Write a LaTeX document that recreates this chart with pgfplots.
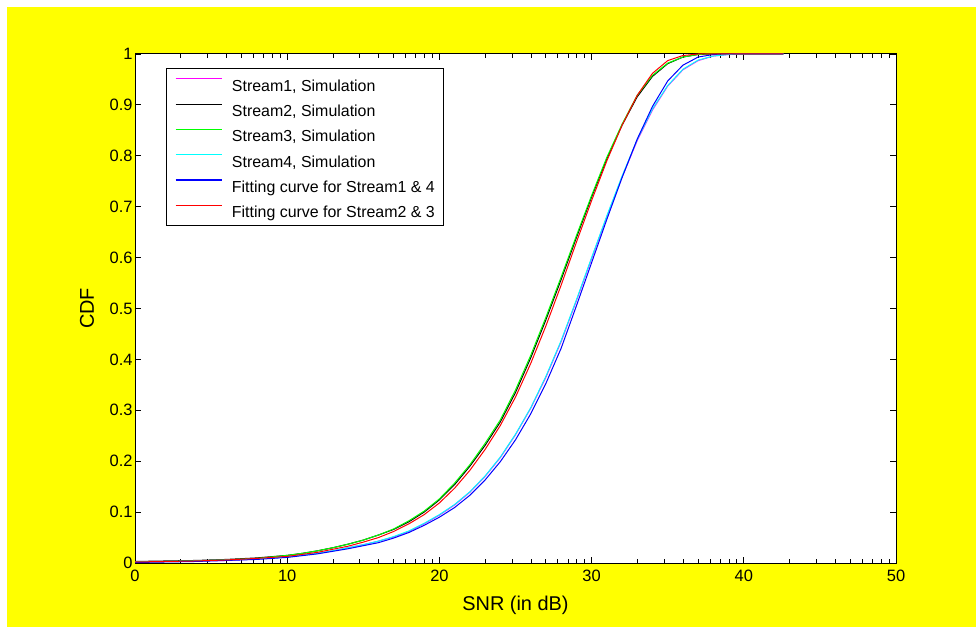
\documentclass[border=0pt]{standalone}
\usepackage{fontspec}
\setmainfont{Liberation Sans}
\usepackage{pgfplots}
\pgfplotsset{compat=1.18}
\usepackage{pgfplotstable}
\definecolor{mYellow}{RGB}{255,255,0}
\definecolor{mMagenta}{RGB}{255,0,255}
\definecolor{mGreen}{RGB}{0,255,0}
\definecolor{mCyan}{RGB}{0,255,255}
\definecolor{mBlue}{RGB}{0,0,255}
\definecolor{mRed}{RGB}{255,0,0}

\pgfplotstableread{
x y
0 0.002
2 0.003
4 0.004
6 0.005
8 0.008
10 0.012
12 0.019
13 0.024
14 0.030
15 0.036
16 0.043
17 0.051
18 0.062
19 0.077
20 0.094
21 0.114
22 0.139
23 0.170
24 0.207
25 0.252
26 0.304
27 0.365
28 0.435
29 0.515
30 0.598
31 0.680
32 0.758
33 0.830
34 0.890
35 0.937
36 0.969
37 0.987
38 0.996
39 0.999
39.6 1
42.6 1
}\sone

\pgfplotstableread{
x y
0 0.003
2 0.004
4 0.005
6 0.007
8 0.010
10 0.015
11 0.019
12 0.024
13 0.030
14 0.037
15 0.045
16 0.055
17 0.066
18 0.081
19 0.100
20 0.124
21 0.154
22 0.190
23 0.231
24 0.277
25 0.335
26 0.403
27 0.478
28 0.557
29 0.639
30 0.719
31 0.794
32 0.860
33 0.916
34 0.956
35 0.981
36 0.994
37 0.999
37.8 1
42.6 1
}\stwo

\pgfplotstableread{
x y
0 0.002
2 0.003
4 0.004
6 0.006
8 0.009
10 0.015
11 0.019
12 0.024
13 0.030
14 0.037
15 0.045
16 0.055
17 0.067
18 0.083
19 0.102
20 0.126
21 0.157
22 0.193
23 0.235
24 0.281
25 0.340
26 0.408
27 0.483
28 0.562
29 0.643
30 0.722
31 0.797
32 0.862
33 0.919
34 0.958
35 0.982
36 0.994
37 0.999
37.5 1
42.6 1
}\sthree

\pgfplotstableread{
x y
0 0.002
2 0.003
4 0.004
6 0.006
8 0.008
10 0.012
12 0.019
13 0.024
14 0.030
15 0.036
16 0.043
17 0.052
18 0.063
19 0.078
20 0.095
21 0.115
22 0.140
23 0.171
24 0.208
25 0.253
26 0.305
27 0.367
28 0.437
29 0.517
30 0.600
31 0.682
32 0.760
33 0.832
34 0.892
35 0.938
36 0.970
37 0.988
38 0.996
39 0.999
39.5 1
42.6 1
}\sfour

\pgfplotstableread{
x y
0 0.001
2 0.002
4 0.003
6 0.005
8 0.007
10 0.011
12 0.018
13 0.023
14 0.028
15 0.034
16 0.040
17 0.049
18 0.060
19 0.074
20 0.090
21 0.109
22 0.133
23 0.163
24 0.199
25 0.242
26 0.293
27 0.353
28 0.422
29 0.505
30 0.590
31 0.675
32 0.757
33 0.833
34 0.897
35 0.947
36 0.978
37 0.994
38 0.999
38.5 1
42.6 1
}\fitone

\pgfplotstableread{
x y
0 0.002
2 0.003
4 0.004
6 0.006
8 0.009
10 0.013
12 0.021
14 0.033
15 0.041
16 0.050
17 0.062
18 0.077
19 0.095
20 0.118
21 0.147
22 0.182
23 0.223
24 0.270
25 0.326
26 0.392
27 0.466
28 0.546
29 0.630
30 0.712
31 0.790
32 0.860
33 0.919
34 0.962
35 0.987
36 0.997
37 1.0
42.6 1
}\fittwo

\begin{document}
\begin{tikzpicture}
\fill[white] (0bp,0bp) rectangle (976bp,627bp);
\fill[mYellow] (7bp,0bp) rectangle (976bp,620bp);
\path[use as bounding box] (0bp,0bp) rectangle (976bp,627bp);
\begin{axis}[
  at={(135bp,64bp)}, anchor=south west,
  scale only axis, width=761bp, height=509bp,
  xmin=0, xmax=50, ymin=0, ymax=1,
  axis background/.style={fill=white},
  xtick={0,10,...,50},
  ytick={0,0.1,0.2,0.3,0.4,0.5,0.6,0.7,0.8,0.9,1},
  minor xtick={3.01,4.77,6.02,6.99,7.78,8.45,9.03,9.54,
               13.01,14.77,16.02,16.99,17.78,18.45,19.03,19.54,
               23.01,24.77,26.02,26.99,27.78,28.45,29.03,29.54,
               33.01,34.77,36.02,36.99,37.78,38.45,39.03,39.54,
               43.01,44.77,46.02,46.99,47.78,48.45,49.03,49.54},
  tick align=inside,
  major tick length=6bp, minor tick length=4bp,
  tick style={black, line width=0.8bp},
  axis line style={line width=1bp},
  /pgf/number format/assume math mode=true,
  yticklabel style={/pgf/number format/fixed, /pgf/number format/precision=1, xshift=1bp},
  xticklabel style={yshift=-4bp},
  every tick label/.append style={font=\fontsize{16.5}{19}\selectfont},
  xlabel={SNR (in dB)}, ylabel={CDF},
  xlabel style={at={(axis description cs:0.5,-0.0825)}, anchor=center, font=\fontsize{20}{24}\selectfont},
  ylabel style={at={(axis description cs:-0.063,0.5)}, anchor=center, font=\fontsize{20}{24}\selectfont},
  legend style={at={(axis description cs:0.0403,0.972)}, anchor=north west,
    draw=black, line width=0.8bp, fill=white,
    inner xsep=9bp, inner ysep=7.75bp, row sep=10.3bp, column sep=9bp,
    font=\fontsize{16}{19}\selectfont,
    nodes={inner sep=0pt, anchor=west, text height=14.8bp, text depth=0.2bp}},
  legend cell align=left,
  legend image code/.code={\draw[#1, line width=1.2bp] (0bp,5bp) -- (46.7bp,5bp);},
  every axis plot/.append style={line width=1bp},
]
\addplot[mMagenta] table {\sone};
\addplot[black] table {\stwo};
\addplot[mGreen] table {\sthree};
\addplot[mCyan] table {\sfour};
\addplot[mBlue] table {\fitone};
\addplot[mRed] table {\fittwo};
\legend{Stream1{,} Simulation, Stream2{,} Simulation, Stream3{,} Simulation, Stream4{,} Simulation, Fitting curve for Stream1 \& 4, Fitting curve for Stream2 \& 3}
\end{axis}
\end{tikzpicture}
\end{document}
